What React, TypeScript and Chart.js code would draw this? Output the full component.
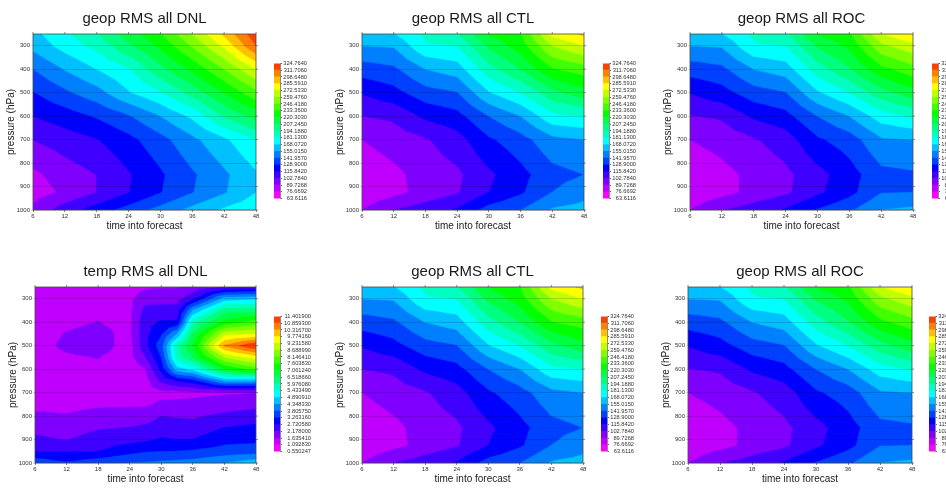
import React, { useEffect, useRef } from "react";
import { Chart, registerables } from "chart.js";

Chart.register(...registerables);

const FONT = '"Liberation Sans", Arial, sans-serif';

const geopLevelLabels = ["63.6116","76.6692","89.7268","102.7840","115.8420","128.9000","141.9570","155.0150","168.0720","181.1300","194.1880","207.2450","220.3030","233.3600","246.4180","259.4760","272.5330","285.5910","298.6480","311.7060","324.7640"];
const tempLevelLabels = ["0.550247","1.092830","1.635410","2.178000","2.720580","3.263160","3.805750","4.348330","4.890910","5.433490","5.976080","6.518660","7.061240","7.603830","8.146410","8.688990","9.231580","9.774160","10.316700","10.859300","11.401900"];
const bandColors = ["#ff00ff","#c000ff","#8000ff","#4000ff","#0000ff","#0040ff","#0080ff","#00c0ff","#00ffff","#00ffc0","#00ff80","#00ff40","#00ff00","#40ff00","#80ff00","#c0ff00","#ffff00","#ffc000","#ff8000","#ff4000"];

const pressureTicks = [300,400,500,600,700,800,900,1000];
const timeTicks = [6,12,18,24,30,36,42,48];

const geopTimes = [6,12,18,24,30,36,42,48];
const geopPressures = [250,300,400,500,600,700,850,925,1000];

const geopDNL = [
  [164.1,178.5,192.9,213.8,232.1,259.5,288.2,320.8],
  [158.9,173.3,185.0,204.6,222.9,247.7,275.1,311.7],
  [141.9,155.7,168.1,179.8,203.3,222.9,246.4,272.5],
  [128.2,139.3,149.8,166.8,179.8,199.4,220.3,242.5],
  [115.8,122.4,130.2,140.6,155.0,170.7,195.5,212.5],
  [102.8,109.3,115.2,125.0,137.4,151.7,165.5,181.1],
  [86.7,96.0,102.8,114.5,126.9,140.0,152.4,166.1],
  [83.2,92.1,102.8,115.2,128.2,141.3,153.7,167.9],
  [93.6,108.9,121.8,134.1,146.5,158.9,170.0,177.2],
];
const geopCTL = [
  [161.5,166.8,183.7,192.9,221.6,232.1,276.4,288.2],
  [155.0,156.3,179.2,181.1,209.9,226.8,259.5,272.5],
  [135.4,139.3,155.0,161.5,189.0,207.2,232.1,239.9],
  [117.1,124.3,136.7,141.3,166.8,181.1,203.3,215.1],
  [102.8,105.4,118.4,124.3,141.9,155.0,177.2,181.1],
  [89.7,95.6,101.5,110.6,126.9,136.7,151.1,155.0],
  [80.6,86.5,94.9,100.2,113.2,124.6,137.4,141.9],
  [79.3,85.8,94.3,101.5,115.8,126.9,142.0,149.8],
  [89.7,102.8,109.3,117.1,134.1,141.7,156.3,160.2],
];
const geopROC = [
  [161.5,167.4,183.7,192.2,221.0,230.7,271.2,286.2],
  [155.0,156.3,179.2,181.1,208.6,222.9,255.6,268.6],
  [134.8,138.7,155.0,161.5,187.7,205.9,229.4,241.2],
  [116.5,123.7,136.1,141.3,166.1,181.1,202.0,215.1],
  [102.1,104.7,117.8,124.3,141.9,155.0,174.6,182.4],
  [89.7,94.3,101.5,109.3,126.9,135.4,153.1,155.0],
  [80.6,85.8,93.0,99.5,111.3,123.0,138.0,140.0],
  [79.3,85.2,93.6,100.2,113.2,124.7,141.3,142.0],
  [89.7,102.1,108.7,117.1,129.5,139.6,155.0,157.6],
];

const tempTimes = [6,12,18,24,27,30,33,36,42,48];
const tempPressures = [250,300,350,400,450,500,550,600,650,700,750,800,850,900,950,1000];
const tempDNL = [
  [1.364,1.364,1.419,1.419,1.554,1.581,1.581,1.744,2.178,2.287],
  [1.364,1.364,1.419,1.5,1.961,1.961,1.961,2.558,4.567,4.73],
  [1.364,1.419,1.554,1.5,2.341,2.368,2.395,4.35,6.249,6.304],
  [1.391,1.527,1.647,1.5,2.558,2.775,2.775,5.76,7.227,7.824],
  [1.419,1.663,1.771,1.5,2.558,3.183,4.35,6.521,8.963,9.181],
  [1.419,1.744,1.853,1.419,2.558,3.59,5.815,7.064,10.375,11.4],
  [1.391,1.554,1.65,1.419,2.151,3.264,5.707,6.521,8.692,9.452],
  [1.364,1.473,1.527,1.364,1.609,2.884,4.621,5.001,7.064,7.878],
  [1.364,1.364,1.419,1.364,1.419,2.287,2.721,2.993,4.35,4.35],
  [1.364,1.364,1.419,1.419,1.473,1.473,1.473,1.5,1.554,1.609],
  [1.473,1.5,1.554,1.554,1.554,1.717,1.744,1.771,1.907,2.016],
  [1.733,1.668,1.815,1.853,1.907,2.178,2.124,2.097,2.287,2.423],
  [1.994,1.907,2.124,2.189,2.287,2.45,2.423,2.406,2.721,2.857],
  [2.287,2.151,2.423,2.515,2.613,2.775,2.721,2.721,3.074,3.128],
  [2.694,2.667,2.71,3.074,3.21,3.253,3.264,3.318,3.481,3.535],
  [3.617,3.318,3.59,3.807,3.861,3.915,3.97,4.024,4.322,4.676],
];

type Panel = {
  title: string; times: number[]; pressures: number[]; grid: number[][]; labels: string[];
  left: number; top: number; width: number; height: number; barLeft: number; barTop: number; barHeight: number; barWidth: number;
};

const panels: Panel[] = [
  { title: "geop RMS all DNL", times: geopTimes, pressures: geopPressures, grid: geopDNL, labels: geopLevelLabels, left: 33, top: 34, width: 223, height: 176, barLeft: 274, barTop: 63, barHeight: 136, barWidth: 6 },
  { title: "geop RMS all CTL", times: geopTimes, pressures: geopPressures, grid: geopCTL, labels: geopLevelLabels, left: 362, top: 34, width: 222, height: 176, barLeft: 603, barTop: 63, barHeight: 136, barWidth: 6 },
  { title: "geop RMS all ROC", times: geopTimes, pressures: geopPressures, grid: geopROC, labels: geopLevelLabels, left: 690, top: 34, width: 223, height: 176, barLeft: 932, barTop: 63, barHeight: 136, barWidth: 6 },
  { title: "temp RMS all DNL", times: tempTimes, pressures: tempPressures, grid: tempDNL, labels: tempLevelLabels, left: 35, top: 287, width: 221, height: 176, barLeft: 274, barTop: 316, barHeight: 136, barWidth: 6 },
  { title: "geop RMS all CTL", times: geopTimes, pressures: geopPressures, grid: geopCTL, labels: geopLevelLabels, left: 362, top: 287, width: 221, height: 176, barLeft: 601, barTop: 316, barHeight: 136, barWidth: 6 },
  { title: "geop RMS all ROC", times: geopTimes, pressures: geopPressures, grid: geopROC, labels: geopLevelLabels, left: 688, top: 287, width: 224, height: 176, barLeft: 929, barTop: 316, barHeight: 136, barWidth: 6 },
];

type V = { x: number; y: number; v: number };

function clipAbove(tri: V[], level: number): V[] {
  const out: V[] = [];
  for (let i = 0; i < tri.length; i++) {
    const a = tri[i];
    const b = tri[(i + 1) % tri.length];
    const aIn = a.v >= level;
    const bIn = b.v >= level;
    if (aIn) out.push(a);
    if (aIn !== bIn) {
      const t = (level - a.v) / (b.v - a.v);
      out.push({ x: a.x + t * (b.x - a.x), y: a.y + t * (b.y - a.y), v: level });
    }
  }
  return out;
}

function contourPlugin(p: Panel, levels: number[]) {
  return {
    id: "contourFill",
    beforeDatasetsDraw(chart: any) {
      const { ctx, chartArea: ca, scales } = chart;
      const tris: V[][] = [];
      for (let r = 0; r < p.pressures.length - 1; r++) {
        for (let c = 0; c < p.times.length - 1; c++) {
          const at = (rr: number, cc: number): V => ({
            x: scales.x.getPixelForValue(p.times[cc]),
            y: scales.y.getPixelForValue(p.pressures[rr]),
            v: p.grid[rr][cc],
          });
          const a = at(r, c), b = at(r, c + 1), d = at(r + 1, c + 1), e = at(r + 1, c);
          const m = { x: (a.x + d.x) / 2, y: (a.y + d.y) / 2, v: (a.v + b.v + d.v + e.v) / 4 };
          tris.push([a, b, m], [b, d, m], [d, e, m], [e, a, m]);
        }
      }
      ctx.save();
      ctx.beginPath();
      ctx.rect(ca.left, ca.top, ca.right - ca.left, ca.bottom - ca.top);
      ctx.clip();
      for (let k = 0; k < bandColors.length; k++) {
        ctx.beginPath();
        for (const t of tris) {
          const poly = clipAbove(t, levels[k]);
          if (poly.length < 3) continue;
          ctx.moveTo(poly[0].x, poly[0].y);
          for (let i = 1; i < poly.length; i++) ctx.lineTo(poly[i].x, poly[i].y);
          ctx.closePath();
        }
        ctx.fillStyle = bandColors[k];
        ctx.strokeStyle = bandColors[k];
        ctx.lineWidth = 0.6;
        ctx.lineJoin = "round";
        ctx.fill();
        ctx.stroke();
      }
      ctx.restore();
    },
    afterDraw(chart: any) {
      const { ctx, chartArea: ca, scales } = chart;
      ctx.save();
      ctx.strokeStyle = "rgba(70,70,70,0.8)";
      ctx.lineWidth = 1;
      ctx.strokeRect(ca.left, ca.top, ca.right - ca.left, ca.bottom - ca.top);
      ctx.strokeStyle = "rgba(90,90,90,0.7)";
      ctx.beginPath();
      for (const t of scales.x.ticks) {
        const x = scales.x.getPixelForValue(t.value);
        ctx.moveTo(x, ca.top);
        ctx.lineTo(x, ca.top - 2);
      }
      for (const t of scales.y.ticks) {
        const y = scales.y.getPixelForValue(t.value);
        ctx.moveTo(ca.right, y);
        ctx.lineTo(ca.right + 2, y);
      }
      ctx.stroke();
      ctx.restore();
    },
  };
}

function makeMain(canvas: HTMLCanvasElement, p: Panel) {
  const levels = p.labels.map(Number);
  const points: any[] = [];
  p.pressures.forEach((pr, r) => p.times.forEach((t, c) => points.push({ x: t, y: pr, v: p.grid[r][c] })));
  return new Chart(canvas, {
    type: "scatter",
    data: { datasets: [{ label: p.title, data: points, pointRadius: 0, showLine: false }] },
    plugins: [contourPlugin(p, levels)],
    options: {
      animation: false,
      responsive: false,
      layout: { padding: { left: 0, right: 6, top: 0, bottom: 0 } },
      plugins: {
        legend: { display: false },
        tooltip: { enabled: false },
        title: {
          display: true,
          text: p.title,
          fullSize: false,
          color: "#1a1a1a",
          font: { family: FONT, size: 15, weight: "normal", lineHeight: 1.2 },
          padding: { top: 10, bottom: 6 },
        },
      },
      scales: {
        x: {
          type: "linear",
          min: 6,
          max: 48,
          afterBuildTicks: (s: any) => { s.ticks = timeTicks.map((value) => ({ value })); },
          afterFit: (s: any) => { s.height = 22; },
          grid: { drawOnChartArea: false, tickLength: 2, color: "rgba(90,90,90,0.7)" },
          border: { display: false },
          ticks: { font: { family: FONT, size: 6 }, color: "#333", padding: 1, maxRotation: 0, autoSkip: false, callback: (v: any) => String(v) },
          title: { display: true, text: "time into forecast", color: "#222", font: { family: FONT, size: 10, lineHeight: 1.2 }, padding: { top: 0, bottom: 0 } },
        },
        y: {
          type: "linear",
          reverse: true,
          min: 250,
          max: 1000,
          afterBuildTicks: (s: any) => { s.ticks = pressureTicks.map((value) => ({ value })); },
          afterFit: (s: any) => { s.width = 33; },
          grid: { z: 1, tickLength: 2, color: "rgba(0,0,0,0.15)", lineWidth: 1 },
          border: { display: false },
          ticks: { font: { family: FONT, size: 6 }, color: "#333", padding: 1, autoSkip: false, callback: (v: any) => String(v) },
          title: { display: true, text: "pressure (hPa)", color: "#222", font: { family: FONT, size: 10, lineHeight: 1.2 }, padding: { top: 5, bottom: 0 } },
        },
      },
    } as any,
  });
}

function makeBar(canvas: HTMLCanvasElement, p: Panel, axisWidth: number) {
  const levels = p.labels.map(Number);
  return new Chart(canvas, {
    type: "bar",
    data: {
      labels: [""],
      datasets: bandColors.map((color, k) => ({
        label: p.labels[k],
        data: [[levels[k], levels[k + 1]]],
        backgroundColor: color,
        borderWidth: 0,
        barPercentage: 1,
        categoryPercentage: 1,
        grouped: false,
      })),
    } as any,
    options: {
      animation: false,
      responsive: false,
      layout: { padding: { left: 0, right: 0, top: 4, bottom: 4 } },
      plugins: { legend: { display: false }, tooltip: { enabled: false }, title: { display: false } },
      scales: {
        x: { display: false },
        y: {
          type: "linear",
          position: "right",
          min: levels[0],
          max: levels[levels.length - 1],
          afterBuildTicks: (s: any) => { s.ticks = levels.map((value) => ({ value })); },
          afterFit: (s: any) => { s.width = axisWidth; },
          grid: { drawOnChartArea: false, tickLength: 2, color: "#666" },
          border: { display: true, color: "rgba(90,90,90,0.7)" },
          ticks: {
            font: { family: FONT, size: 5.7 },
            color: "#333",
            padding: 1,
            autoSkip: false,
            crossAlign: "far",
            callback: (v: any) => p.labels[levels.indexOf(Number(v))],
          },
        },
      },
    } as any,
  });
}

function PanelView({ p }: { p: Panel }) {
  const mainRef = useRef<HTMLCanvasElement>(null);
  const barRef = useRef<HTMLCanvasElement>(null);
  const axisWidth = p.labels === tempLevelLabels ? 31 : 27;
  useEffect(() => {
    const a = makeMain(mainRef.current!, p);
    const b = makeBar(barRef.current!, p, axisWidth);
    return () => { a.destroy(); b.destroy(); };
  }, []);
  return (
    <>
      <canvas
        ref={mainRef}
        width={33 + p.width + 6}
        height={34 + p.height + 22}
        style={{ position: "absolute", left: p.left - 33, top: p.top - 34, width: 33 + p.width + 6, height: 34 + p.height + 22 }}
      />
      <canvas
        ref={barRef}
        width={p.barWidth + axisWidth}
        height={p.barHeight + 8}
        style={{ position: "absolute", left: p.barLeft, top: p.barTop - 4, width: p.barWidth + axisWidth, height: p.barHeight + 8 }}
      />
    </>
  );
}

export default function App() {
  return (
    <div style={{ position: "absolute", left: 0, top: 0, width: 946, height: 488, overflow: "hidden", background: "#fff", filter: "blur(0.5px)" }}>
      {panels.map((p, i) => <PanelView key={i} p={p} />)}
    </div>
  );
}
